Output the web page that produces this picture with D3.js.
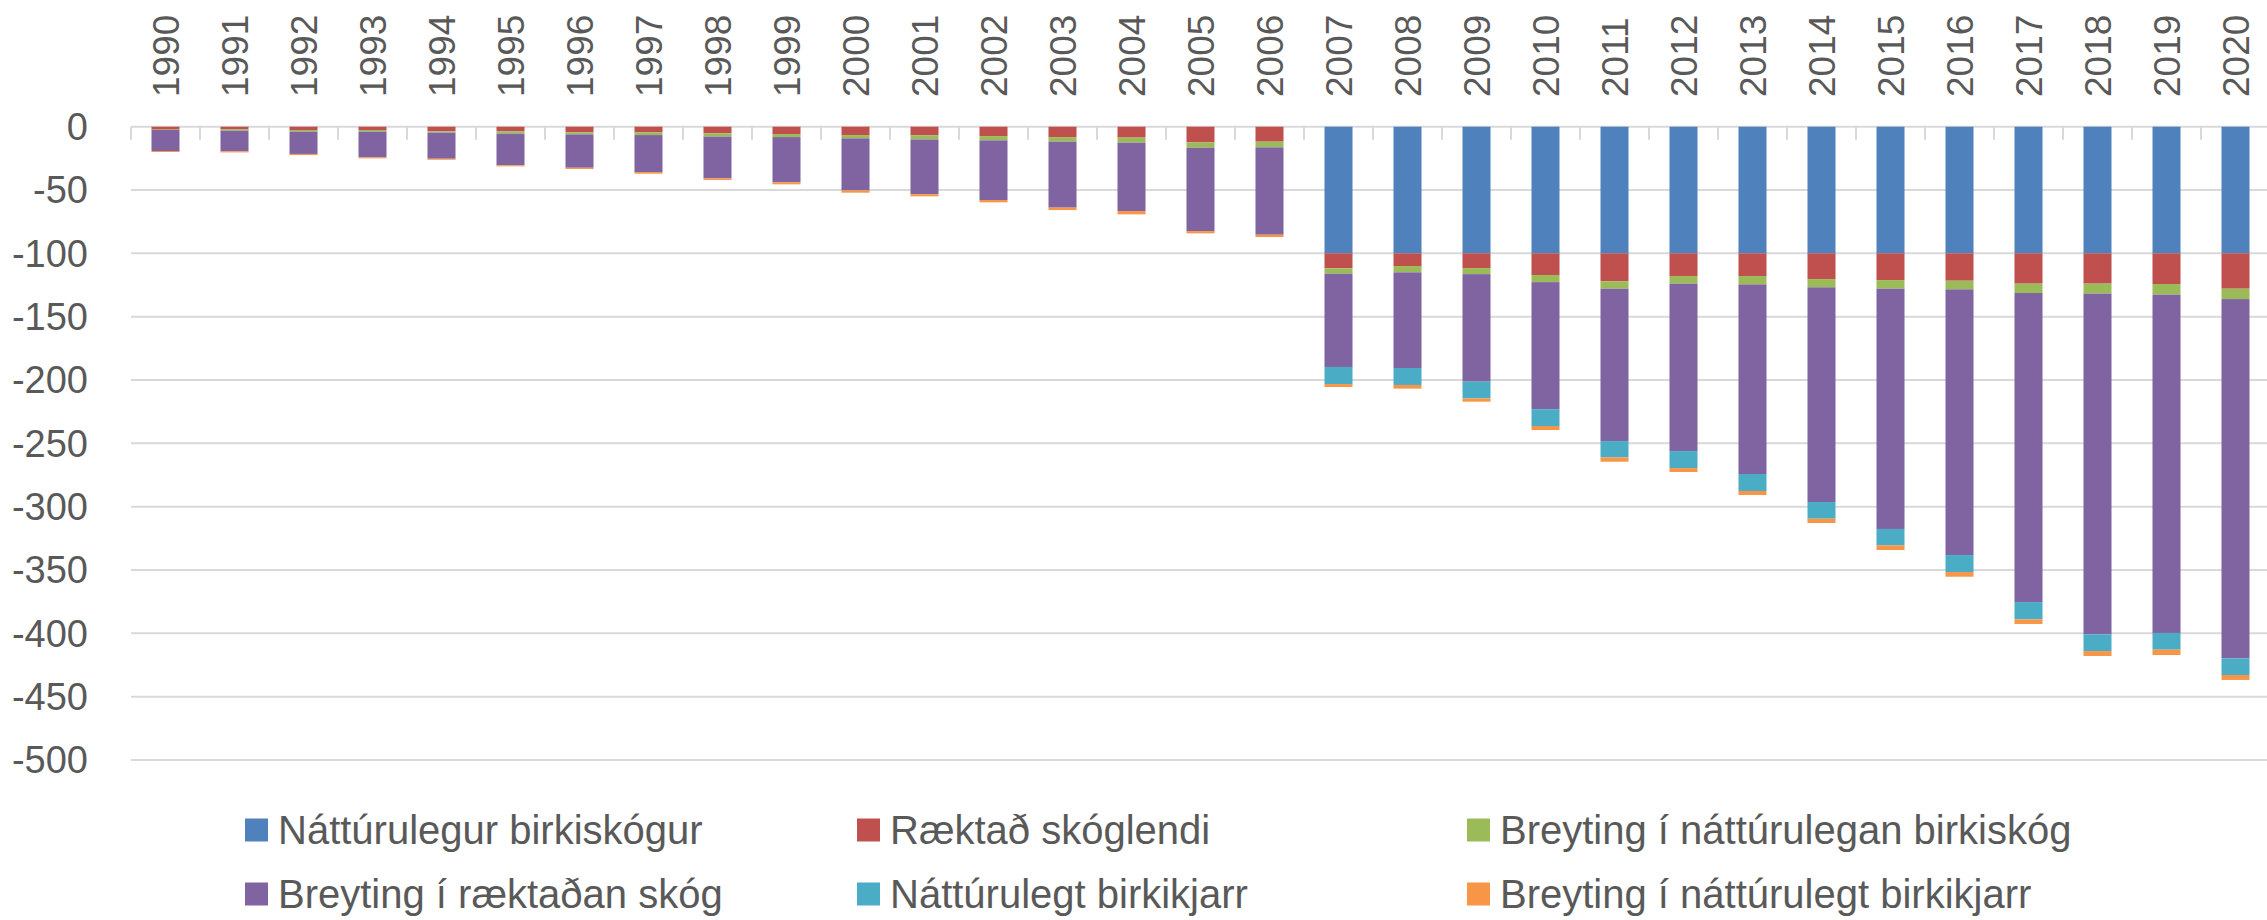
<!DOCTYPE html>
<html>
<head>
<meta charset="utf-8">
<script src="https://cdn.jsdelivr.net/npm/d3@7"></script>
<style>
  html, body { margin: 0; padding: 0; background: #fff; }
  svg { display: block; }
</style>
</head>
<body>
<div id="elements"></div>
<script>
// categories
var years = ["1990","1991","1992","1993","1994","1995","1996","1997","1998","1999",
    "2000","2001","2002","2003","2004","2005","2006","2007","2008","2009",
    "2010","2011","2012","2013","2014","2015","2016","2017","2018","2019","2020"];

// series values
var naturalForest = [0,0,0,0,0,0,0,0,0,0,0,0,0,0,0,0,0,
    -100,-100,-100,-100,-100,-100,-100,-100,-100,-100,-100,-100,-100,-100];
var plantedForest = [-2.3,-2.2,-2.6,-2.6,-3.7,-3.7,-4.5,-4.5,-5.2,-5.8,-6.6,-6.7,-7.4,-8.2,-8.6,-12.4,-11.8,
    -11.8,-10.0,-11.6,-17.1,-22.1,-17.9,-17.9,-20.3,-21.1,-21.6,-23.9,-23.9,-24.2,-27.9];
var toNaturalForest = [-0.3,-1.0,-1.3,-1.3,-1.0,-1.8,-1.6,-2.1,-2.6,-2.4,-2.6,-3.4,-3.4,-3.6,-4.0,-4.2,-4.5,
    -4.3,-5.0,-4.8,-5.6,-5.8,-6.0,-6.6,-6.5,-6.8,-6.8,-7.4,-7.9,-8.4,-8.2];
var toPlantedForest = [-16.6,-16.3,-17.6,-20.3,-20.6,-25.0,-26.3,-29.2,-33.0,-35.7,-41.1,-43.2,-47.1,-52.1,-54.0,-65.8,-69.0,
    -73.6,-75.5,-84.9,-100.3,-120.3,-132.2,-149.7,-169.5,-189.7,-209.8,-244.0,-269.0,-267.1,-283.6];
var naturalShrub = [0,0,0,0,0,0,0,0,0,0,0,0,0,0,0,0,0,
    -13.5,-13.4,-13.2,-13.3,-12.9,-13.4,-13.4,-13.2,-12.9,-13.4,-13.7,-13.2,-13.2,-13.2];
var toNaturalShrub = [-0.8,-0.8,-0.9,-0.8,-0.8,-0.8,-1.0,-1.3,-1.3,-1.6,-1.8,-1.7,-1.8,-1.9,-2.6,-1.8,-1.8,
    -2.3,-2.9,-2.6,-3.2,-3.4,-3.1,-3.2,-3.4,-3.7,-3.7,-3.6,-3.9,-4.2,-3.9];

var seriesNames = ["Náttúrulegur birkiskógur", "Ræktað skóglendi", "Breyting í náttúrulegan birkiskóg",
    "Breyting í ræktaðan skóg", "Náttúrulegt birkikjarr", "Breyting í náttúrulegt birkikjarr"];
var seriesValues = [naturalForest, plantedForest, toNaturalForest, toPlantedForest, naturalShrub, toNaturalShrub];
var seriesColors = ["#4f81bd", "#c0504d", "#9bbb59", "#8064a2", "#4bacc6", "#f79646"];

// y axis tick labels
var yTicks = [0, -50, -100, -150, -200, -250, -300, -350, -400, -450, -500];

var width = 2267, height = 920;
var plotLeft = 131, step = 69;

var svg = d3.select("#elements").append("svg")
    .attr("width", width)
    .attr("height", height);

var x = d3.scaleBand()
    .domain(years)
    .range([plotLeft, plotLeft + step * years.length])
    .paddingInner(0.594)
    .paddingOuter(0.297);

var y = d3.scaleLinear()
    .domain([-500, 0])
    .range([760, 126.7]);

// gridlines
svg.append("g")
    .selectAll("line")
    .data(yTicks)
    .enter()
    .append("line")
    .attr("x1", plotLeft)
    .attr("x2", width)
    .attr("y1", function(d) { return y(d); })
    .attr("y2", function(d) { return y(d); })
    .attr("stroke", "#d9d9d9")
    .attr("stroke-width", 2);

// y labels
svg.append("g")
    .selectAll("text")
    .data(yTicks)
    .enter()
    .append("text")
    .attr("x", 88)
    .attr("y", function(d) { return y(d); })
    .attr("dy", "0.35em")
    .attr("text-anchor", "end")
    .attr("font-family", "'Liberation Sans', Arial, sans-serif")
    .attr("font-size", 38)
    .attr("fill", "#595959")
    .text(function(d) { return d; });

// small ticks between categories, hanging under the zero line
var tickX = d3.range(years.length + 1).map(function(i) { return plotLeft + i * x.step(); });
svg.append("g")
    .selectAll("line")
    .data(tickX)
    .enter()
    .append("line")
    .attr("x1", function(d) { return d; })
    .attr("x2", function(d) { return d; })
    .attr("y1", y(0))
    .attr("y2", y(0) + 13)
    .attr("stroke", "#d9d9d9")
    .attr("stroke-width", 2);

// stacked bars
var rows = years.map(function(yr, i) {
    var r = { year: yr };
    seriesNames.forEach(function(name, k) { r[name] = seriesValues[k][i]; });
    return r;
});

var stack = d3.stack()
    .keys(seriesNames)
    .offset(d3.stackOffsetDiverging);

var layers = stack(rows);

svg.append("g")
    .selectAll("g")
    .data(layers)
    .enter()
    .append("g")
    .attr("fill", function(d, k) { return seriesColors[k]; })
    .selectAll("rect")
    .data(function(d) { return d; })
    .enter()
    .append("rect")
    .attr("x", function(d) { return x(d.data.year); })
    .attr("width", x.bandwidth())
    .attr("y", function(d) { return y(Math.max(d[0], d[1])); })
    .attr("height", function(d) { return Math.abs(y(d[0]) - y(d[1])); });

// year labels on top, rotated
svg.append("g")
    .selectAll("text")
    .data(years)
    .enter()
    .append("text")
    .attr("transform", function(d) {
        return "translate(" + (x(d) + x.bandwidth() / 2) + ",97) rotate(-90)";
    })
    .attr("dy", "0.36em")
    .attr("text-anchor", "start")
    .attr("font-family", "'Liberation Sans', Arial, sans-serif")
    .attr("font-size", 37)
    .attr("fill", "#595959")
    .text(function(d) { return d; });

// legend
var legendCols = [245, 857, 1467], legendRows = [830, 894];
var legend = svg.append("g")
    .selectAll("g")
    .data(seriesNames)
    .enter()
    .append("g")
    .attr("transform", function(d, i) {
        return "translate(" + legendCols[i % 3] + "," + legendRows[Math.floor(i / 3)] + ")";
    });

legend.append("rect")
    .attr("x", 0)
    .attr("y", -11.5)
    .attr("width", 23)
    .attr("height", 23)
    .attr("fill", function(d, i) { return seriesColors[i]; });

legend.append("text")
    .attr("x", 33)
    .attr("y", 0)
    .attr("dy", "0.35em")
    .attr("font-family", "'Liberation Sans', Arial, sans-serif")
    .attr("font-size", 40)
    .attr("fill", "#595959")
    .text(function(d) { return d; });
</script>
</body>
</html>
